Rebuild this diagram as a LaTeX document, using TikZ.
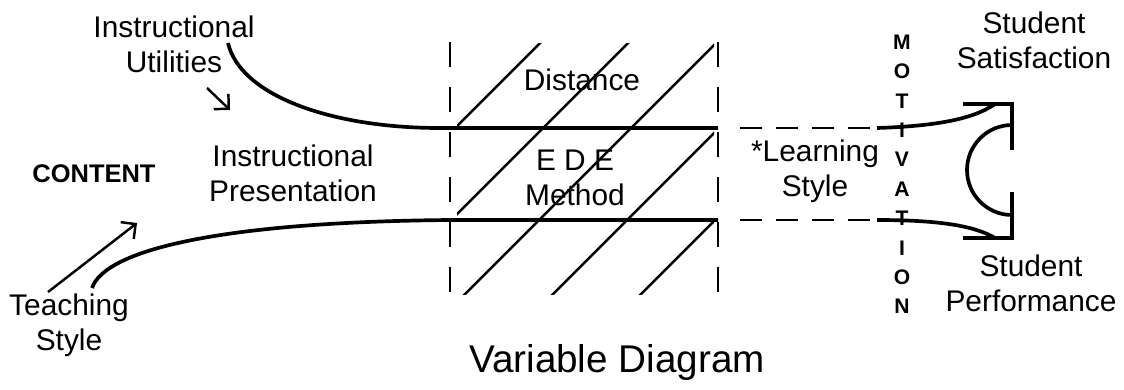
\documentclass[tikz,border=0pt]{standalone}
\usepackage{fontspec}
\setsansfont{Liberation Sans}
\usetikzlibrary{arrows.meta,calc}

\begin{document}
\begin{tikzpicture}[
    x=0.02cm, y=-0.02cm,
    lbl/.style={font=\sffamily\fontsize{17}{20}\selectfont, align=center, inner sep=0pt},
    caps/.style={font=\sffamily\bfseries\fontsize{14.5}{17}\selectfont, inner sep=0pt},
    letter/.style={font=\sffamily\bfseries\fontsize{12}{12}\selectfont, inner sep=0pt},
    heading/.style={font=\sffamily\fontsize{22}{26}\selectfont, inner sep=0pt},
    flow/.style={line width=2.1pt, draw=black},
    fence/.style={line width=1.4pt, draw=black, dash pattern=on 0.5cm off 0.4cm},
    gap/.style={line width=1.4pt, draw=black, dash pattern=on 0.44cm off 0.28cm},
    hatch/.style={line width=1.4pt, draw=black},
    hint/.style={-{Straight Barb[angle=90:0.3cm]}, line width=1.4pt, draw=black}
  ]
  \useasboundingbox (0,0) rectangle (1124,389);

  % Labels
  \node[lbl] (util)  at (174,44)  {Instructional\\Utilities};
  \node[caps] (cont) at (94,174)  {CONTENT};
  \node[lbl] (pres)  at (293,173) {Instructional\\Presentation};
  \node[lbl] (teach) at (69,325)  {Teaching\\Style};
  \node[lbl] (dist)  at (582,80)  {Distance};
  \node[lbl] (ede)   at (575,178) {E D E\\Method};
  \node[lbl] (learn) at (815,171) {*Learning\\Style};
  \node[lbl] (satis) at (1034,40) {Student\\Satisfaction};
  \node[lbl] (perf)  at (1031,283) {Student\\Performance};
  \node[heading] (title) at (617,362) {Variable Diagram};

  % MOTIVATION, one letter per row
  \foreach \ch [count=\i from 0] in {M,O,T,I,V,A,T,I,O,N}
    \node[letter] (mot\i) at (902,42+29.4*\i) {\ch};

  % Key coordinates
  \coordinate (U0) at (228,43);    % start of utilities curve
  \coordinate (T0) at (92,288);    % start of teaching curve
  \coordinate (TL) at (440,128);
  \coordinate (TR) at (718,128);
  \coordinate (BL) at (450,220);
  \coordinate (BR) at (718,220);

  % Incoming curves and the two main lines
  \draw[flow] (U0) .. controls (240,95) and (330,128) .. (TL) -- (TR);
  \draw[flow] (T0) .. controls (105,250) and (220,222) .. (BL) -- (BR);

  % Small arrows
  \coordinate (ua) at (207,88);
  \coordinate (ub) at (230,110);
  \draw[hint] (ua) -- (ub);
  \coordinate (ta) at (48,292);
  \coordinate (tb) at (137,223);
  \draw[hint] (ta) -- (tb);

  % Dashed fences of the distance box
  \draw[fence] (450,42) -- (450,294);
  \draw[fence] (718,42) -- (718,294);

  % Hatching
  \begin{scope}
    \clip (457,43) rectangle (714,294);
    \foreach \k in {583,671,759,847,935}
      \draw[hatch] (\k-300,300) -- (\k-30,30);
  \end{scope}

  % Toward the outcomes
  \coordinate (R1) at (740,128);
  \coordinate (R2) at (877,128);
  \coordinate (R3) at (740,220);
  \coordinate (R4) at (877,220);
  \draw[gap] (R1) -- (R2);
  \draw[gap] (R3) -- (R4);

  % Upper bracket
  \coordinate (S1) at (995,104);
  \coordinate (Sa) at (963,104);
  \coordinate (Sb) at (1012,104);
  \coordinate (Sc) at (1012,150);
  \draw[flow] (R2) .. controls (940,126) and (975,118) .. (S1);
  \draw[flow] (Sa) -- (Sb) -- (Sc);

  % Lower bracket
  \coordinate (P1) at (995,238);
  \coordinate (Pa) at (963,238);
  \coordinate (Pb) at (1012,238);
  \coordinate (Pc) at (1012,192);
  \draw[flow] (R4) .. controls (940,220) and (975,226) .. (P1);
  \draw[flow] (Pa) -- (Pb) -- (Pc);

  % Half circle between them
  \coordinate (C0) at (1012,125);
  \draw[flow] (C0) arc[start angle=-90, end angle=-270, radius=45];

\end{tikzpicture}
\end{document}
